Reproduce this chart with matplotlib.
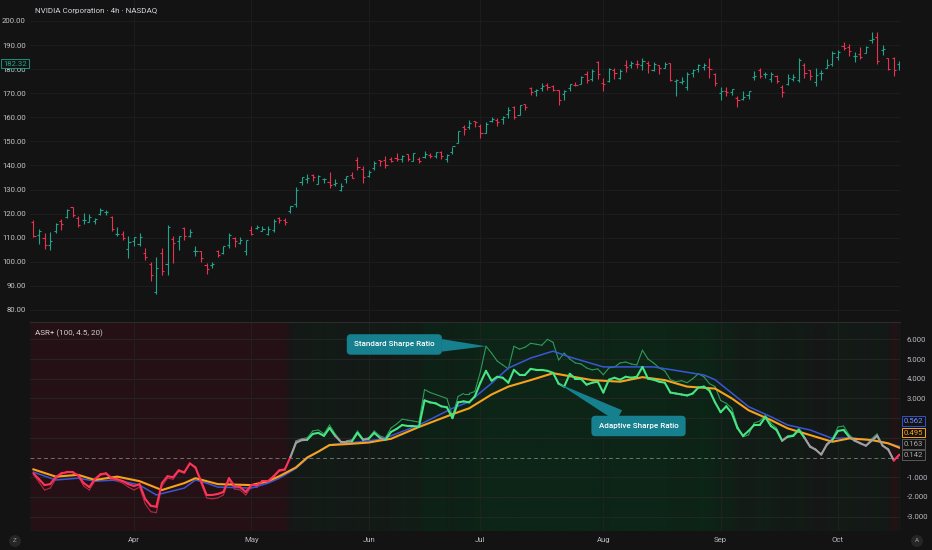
import numpy as np
import matplotlib
matplotlib.use("Agg")
import matplotlib.pyplot as plt
from matplotlib.collections import LineCollection
import matplotlib.transforms as mtransforms

plt.rcParams['font.family'] = ['Roboto', 'DejaVu Sans']

title = 'NVIDIA Corporation · 4h · NASDAQ'
indicator_name = 'ASR+ (100, 4.5, 20)'

# bar index of the first session of each month (Mar 6 .. Oct 16, one bar per session)
month_names = ['Apr', 'May', 'Jun', 'Jul', 'Aug', 'Sep', 'Oct']
month_start = [18, 39, 60, 80, 102, 123, 144]

price_ticks = [80, 90, 100, 110, 120, 130, 140, 150, 160, 170, 180, 190, 200]
osc_ticks = [6, 5, 4, 3, -1, -2, -3]

opens = [
    116.5, 111.3, 109.9, 106.9, 112.7, 117.0, 118.6, 122.7, 118.0, 117.3, 116.6, 116.8, 119.9, 120.6, 118.7, 111.4, 111.5, 105.1,
    108.5, 107.3, 103.5, 98.9, 87.5, 103.8, 98.9, 109.4, 108.5, 114.1, 110.9, 104.5, 104.5, 98.8, 98.8, 104.5, 103.5, 106.8, 109.7, 107.7, 104.5,
    113.1, 114.2, 112.9, 111.5, 113.1, 118.2, 117.4, 121.0, 124.0, 133.2, 134.3, 136.2, 132.4, 134.3, 133.1, 132.2, 130.0, 134.2, 136.0, 142.3, 138.7,
    135.5, 138.8, 142.2, 142.2, 142.5, 143.2, 142.7, 144.6, 141.9, 142.5, 143.4, 144.5, 144.0, 145.5, 142.5, 145.6, 149.3, 155.9, 156.0, 158.4,
    156.3, 153.6, 158.4, 158.8, 159.2, 161.2, 164.3, 161.0, 165.4, 172.0, 171.1, 172.0, 173.6, 172.8, 171.3, 169.5, 172.2, 173.6, 174.0, 177.9, 176.0, 182.9,
    174.1, 175.2, 179.6, 176.3, 181.6, 181.6, 182.2, 181.9, 182.7, 179.8, 181.9, 180.6, 182.4, 175.0, 174.8, 172.6, 178.4, 180.0, 181.0, 180.8, 178.1,
    170.0, 171.1, 170.6, 168.0, 167.6, 169.1, 176.6, 179.7, 177.8, 175.7, 177.0, 172.6, 173.9, 175.8, 175.3, 181.9, 179.8, 174.5, 178.2, 180.4, 182.1,
    185.2, 189.6, 189.2, 185.5, 186.2, 186.6, 192.2, 193.5, 187.9, 184.8, 184.8, 182.2,
]
highs = [
    117.5, 113.5, 111.9, 112.2, 116.0, 117.8, 122.0, 122.9, 119.0, 120.4, 120.0, 118.0, 122.2, 121.3, 118.8, 114.4, 112.9, 110.9,
    110.2, 111.9, 105.6, 100.1, 101.8, 105.9, 115.1, 110.9, 110.9, 114.3, 113.6, 106.6, 104.5, 99.4, 99.8, 104.8, 106.5, 111.9, 110.4, 110.2, 108.9,
    114.9, 115.4, 114.7, 114.7, 117.7, 118.7, 118.2, 123.0, 131.2, 135.4, 136.3, 136.4, 135.9, 134.6, 137.4, 134.3, 132.7, 135.7, 137.2, 143.5, 139.6,
    138.1, 142.0, 142.4, 144.0, 143.3, 145.0, 144.3, 144.9, 145.2, 143.6, 146.2, 145.2, 145.6, 146.2, 144.8, 147.8, 154.5, 156.7, 158.7, 158.6,
    157.2, 157.9, 160.0, 159.6, 160.5, 164.4, 164.5, 165.0, 165.5, 172.4, 171.8, 174.2, 174.3, 173.4, 171.4, 171.3, 173.8, 174.7, 177.0, 179.4, 179.9, 183.3,
    176.5, 180.3, 180.3, 179.9, 183.9, 183.3, 183.8, 184.5, 183.3, 183.0, 181.9, 182.9, 182.5, 175.9, 176.9, 178.6, 180.0, 182.0, 182.4, 184.5, 178.2,
    172.4, 172.4, 171.9, 169.0, 170.9, 170.9, 179.3, 180.3, 178.6, 178.9, 177.5, 173.2, 178.1, 178.1, 184.6, 182.4, 179.8, 180.3, 179.8, 184.0, 187.4,
    188.1, 191.1, 190.4, 187.2, 189.1, 189.6, 195.3, 195.6, 190.1, 184.8, 184.9, 183.3,
]
lows = [
    110.2, 107.5, 105.5, 104.8, 112.0, 113.0, 118.0, 118.6, 114.5, 115.7, 116.5, 115.5, 119.3, 119.3, 112.7, 110.7, 109.1, 101.6,
    106.5, 106.4, 100.8, 92.1, 86.6, 94.5, 94.3, 99.5, 105.0, 109.1, 110.3, 102.5, 100.1, 95.0, 97.3, 102.0, 103.1, 105.7, 106.0, 107.4, 102.8,
    111.3, 113.4, 112.7, 111.3, 112.3, 115.9, 115.2, 120.3, 122.8, 131.7, 132.7, 133.4, 132.4, 132.5, 130.6, 131.6, 129.2, 132.5, 134.8, 137.9, 132.9,
    135.4, 137.9, 139.6, 138.8, 141.5, 141.9, 141.5, 141.9, 141.8, 140.9, 143.2, 143.1, 143.1, 142.6, 141.6, 144.8, 149.3, 152.6, 155.1, 156.1,
    151.5, 153.6, 157.9, 156.3, 157.2, 159.8, 159.2, 160.8, 163.0, 169.2, 168.9, 170.9, 171.3, 171.0, 165.1, 167.0, 170.9, 172.9, 173.8, 174.3, 174.9, 175.9,
    170.9, 174.5, 175.9, 175.8, 178.8, 180.4, 180.3, 179.5, 178.5, 179.4, 178.0, 180.6, 175.0, 168.8, 173.8, 171.2, 176.6, 178.8, 179.5, 176.4, 173.1,
    167.2, 169.0, 169.4, 164.1, 167.3, 167.5, 175.5, 176.2, 176.5, 174.5, 174.4, 168.4, 173.5, 175.2, 174.5, 176.2, 175.4, 173.1, 175.4, 180.3, 181.5,
    183.9, 188.1, 185.4, 182.9, 184.0, 186.5, 191.0, 182.1, 185.9, 179.7, 177.3, 179.8,
]
closes = [
    110.6, 112.7, 107.0, 108.8, 115.7, 115.6, 121.7, 119.5, 115.4, 117.5, 118.5, 117.7, 121.4, 120.7, 113.8, 111.4, 109.7, 108.4,
    110.2, 110.4, 101.8, 94.3, 97.6, 96.3, 114.3, 107.6, 110.9, 110.7, 112.2, 104.5, 101.5, 96.9, 98.9, 102.7, 106.4, 111.0, 108.7, 109.0, 108.9,
    111.6, 114.5, 113.8, 113.5, 117.1, 117.4, 116.7, 123.0, 129.9, 135.3, 134.8, 135.4, 135.6, 134.4, 131.8, 132.8, 131.3, 135.5, 134.8, 139.2, 135.1,
    137.4, 141.2, 141.9, 140.0, 141.7, 142.6, 144.0, 142.8, 145.0, 142.0, 144.7, 144.1, 145.5, 143.9, 144.2, 147.9, 154.3, 155.0, 157.8, 158.0,
    153.3, 157.3, 159.3, 158.2, 160.0, 162.9, 160.0, 164.9, 164.1, 170.7, 171.4, 173.0, 172.4, 171.4, 167.0, 170.8, 173.7, 173.5, 176.8, 175.5, 179.3, 177.9,
    173.7, 180.0, 178.3, 179.4, 180.8, 182.7, 182.1, 183.2, 181.6, 182.0, 180.5, 182.0, 175.6, 175.4, 175.0, 178.0, 179.8, 181.8, 181.6, 180.2, 174.2,
    170.8, 170.6, 171.7, 167.0, 168.3, 170.8, 177.3, 177.2, 177.8, 177.8, 174.9, 170.3, 176.2, 176.7, 183.6, 178.4, 177.0, 177.7, 178.2, 181.9, 186.6,
    187.2, 188.9, 187.6, 185.5, 185.0, 189.1, 192.6, 183.2, 188.3, 180.0, 179.8, 182.32,
]

# adaptive sharpe ratio (thick line) and standard sharpe ratio (thin line)
adaptive = [
    -0.8, -1.1, -1.4, -1.35, -1.0, -0.8, -0.75, -0.75, -0.9, -1.3,
    -1.5, -1.1, -0.85, -0.8, -1.05, -1.1, -1.2, -1.35, -1.45, -1.35,
    -2.1, -2.45, -2.5, -1.3, -0.95, -1.0, -0.65, -0.75, -0.3, -0.5,
    -1.2, -1.9, -1.9, -1.85, -1.75, -1.05, -1.45, -1.5, -1.75, -1.4,
    -1.4, -1.2, -1.2, -0.95, -0.65, -0.6, 0.02, 0.75, 0.88, 0.9,
    1.2, 1.25, 1.1, 1.5, 1.1, 0.8, 0.8, 0.82, 1.25, 0.9,
    0.95, 1.25, 1.0, 0.9, 1.3, 1.45, 1.65, 1.6, 1.6, 1.55,
    2.9, 2.8, 2.75, 2.6, 2.55, 2.0, 2.8, 2.85, 2.8, 3.1,
    3.8, 4.4, 3.9, 4.1, 4.05, 3.8, 4.45, 4.2, 4.2, 4.5,
    4.45, 4.45, 4.4, 4.3, 3.75, 3.6, 4.25, 4.0, 4.0, 3.7,
    3.8, 3.85, 3.3, 3.95, 4.05, 3.95, 4.1, 4.05, 4.1, 4.6,
    4.0, 3.95, 3.85, 3.8, 3.3, 3.25, 3.2, 3.15, 3.25, 3.55,
    3.6, 3.4, 2.8, 2.3, 2.6, 2.25, 1.5, 1.1, 1.35, 1.65,
    1.65, 2.05, 1.6, 1.4, 0.85, 1.05, 1.1, 1.4, 1.0, 0.55,
    0.4, 0.15, 0.65, 0.9, 1.35, 1.4, 1.05, 0.85, 0.72, 0.6,
    0.85, 1.1, 0.6, 0.4, -0.15, 0.142,
]
standard = [
    -0.87, -1.25, -1.65, -1.55, -1.1, -0.85, -0.7, -0.75, -0.95, -1.45,
    -1.65, -1.2, -0.9, -0.85, -1.15, -1.2, -1.3, -1.5, -1.65, -1.5,
    -2.35, -2.75, -2.8, -1.45, -1.05, -1.1, -0.7, -0.8, -0.3, -0.55,
    -1.3, -2.05, -2.1, -2.05, -1.9, -1.15, -1.6, -1.65, -1.9, -1.5,
    -1.5, -1.3, -1.25, -1.0, -0.7, -0.65, 0.05, 0.85, 0.95, 1.0,
    1.35, 1.4, 1.2, 1.65, 1.2, 0.85, 0.85, 0.9, 1.35, 0.95,
    1.0, 1.35, 1.1, 1.0, 1.5, 1.7, 1.95, 1.9, 1.85, 1.8,
    3.45, 3.3, 3.2, 3.1, 3.0, 2.1, 3.1, 3.25, 3.25, 3.35,
    4.35, 5.65, 5.3, 4.9, 4.7, 4.5, 5.65, 5.5, 5.6, 5.8,
    5.75, 5.7, 6.0, 5.85, 4.95, 5.3, 5.0, 4.8, 4.75, 4.55,
    4.45, 4.5, 4.2, 4.55, 4.6, 4.8, 4.85, 4.75, 4.7, 5.45,
    5.0, 4.8, 4.55, 4.4, 3.95, 3.85, 3.9, 3.8, 4.0, 4.25,
    4.1, 3.75, 3.6, 2.9, 2.75, 2.5, 1.6, 1.05, 1.15, 1.75,
    1.85, 2.15, 1.75, 1.5, 0.9, 1.1, 1.15, 1.5, 1.05, 0.6,
    0.42, 0.15, 0.7, 0.95, 1.55, 1.6, 1.15, 0.9, 0.75, 0.6,
    0.95, 1.2, 0.6, 0.45, -0.15, 0.163,
]

# smoothed lines, read at the bars where they bend
blue_idx = [0, 4, 8, 11, 15, 19, 22, 27, 29, 31, 33, 39, 42, 44, 47, 49, 51, 53, 56, 60,
            62, 64, 69, 75, 78, 82, 85, 89, 93, 96, 102, 111, 115, 120, 122, 125, 128, 132, 135, 139,
            143, 146, 150, 153, 155]
blue_vals = [-0.74, -1.14, -1.05, -1.2, -1.14, -1.4, -1.9, -1.55, -1.14, -1.3, -1.5, -1.55, -1.3, -1.05, -0.55, -0.05, 0.3, 0.65, 0.72, 0.85,
             0.92, 1.1, 1.65, 2.5, 2.83, 3.77, 4.54, 5.05, 5.4, 5.1, 4.6, 4.6, 4.42, 4.19, 3.95, 3.27, 2.58, 2.07, 1.65, 1.4,
             0.97, 1.0, 0.89, 0.72, 0.562]
orange_idx = [0, 4, 8, 11, 15, 19, 23, 27, 29, 33, 39, 42, 44, 47, 49, 51, 53, 56, 60, 62,
              64, 69, 75, 78, 82, 85, 89, 93, 100, 105, 109, 113, 117, 122, 125, 128, 132, 135, 139, 143,
              146, 150, 153, 155]
orange_vals = [-0.6, -0.97, -0.88, -1.14, -0.97, -1.2, -1.65, -1.3, -1.05, -1.35, -1.4, -1.2, -0.95, -0.5, 0.0, 0.3, 0.63, 0.68, 0.76, 0.86,
               0.95, 1.55, 2.2, 2.5, 3.2, 3.6, 3.93, 4.28, 3.93, 3.85, 4.08, 3.93, 3.6, 3.5, 3.0, 2.4, 1.9, 1.48, 1.14, 0.8,
               0.97, 0.89, 0.72, 0.495]

# ---------------- style ----------------
BG = '#131313'
TXT = '#b7b9c0'
bull = '#1fa58f'
bear = '#e8324f'
teal = '#17808e'

opens = np.array(opens); highs = np.array(highs); lows = np.array(lows); closes = np.array(closes)
adaptive = np.array(adaptive); standard = np.array(standard)
n = len(closes)
x = np.arange(n)
xlim = (-0.61, 155.1)

fig = plt.figure(figsize=(9.32, 5.5), dpi=100, facecolor=BG)
ax_p = fig.add_axes([30 / 932, 229 / 550, 870 / 932, 321 / 550], facecolor=BG)
ax_o = fig.add_axes([30 / 932, 19 / 550, 870 / 932, 209 / 550], facecolor='#161616')

# ---- price pane ----
cols = np.where(closes >= opens, bull, bear)
ax_p.vlines(x, lows, highs, colors=cols, lw=0.8, zorder=3)
ax_p.hlines(opens, x - 0.38, x, colors=cols, lw=0.8, zorder=3)
ax_p.hlines(closes, x, x + 0.38, colors=cols, lw=0.8, zorder=3)

ax_p.set_xlim(*xlim)
ax_p.set_ylim(75.4, 208.7)
ax_p.set_yticks(price_ticks)
ax_p.set_yticklabels([f'{t:.2f}' for t in price_ticks])
ax_p.set_xticks(month_start)
ax_p.tick_params(axis='y', length=0, pad=3, labelsize=5.6, labelcolor='#c4c4c4')
ax_p.tick_params(axis='x', length=0, labelbottom=False)
ax_p.grid(True, color='#1e1e1e', lw=0.6, zorder=0)
for s in ax_p.spines.values():
    s.set_visible(False)

ax_p.text(-0.031, closes[-1], f'{closes[-1]:.2f}', transform=mtransforms.blended_transform_factory(ax_p.transAxes, ax_p.transData),
          ha='left', va='center', fontsize=5.6, color=bull,
          bbox=dict(boxstyle='square,pad=0.25', fc=BG, ec=bull, lw=0.6), zorder=6)

fig.text(35 / 932, 1 - 11 / 550, title, fontsize=5.8, color='#d1d4dc', ha='left', va='center')

# ---- oscillator pane ----
ylo, yhi = -3.73, 6.88


def bg_color(v):
    neutral = np.array([22, 22, 22]) / 255
    if v < 0:
        return np.array([37, 17, 21]) / 255
    green = np.array([12, 37, 23]) / 255
    t = min(v / 3.5, 1.0)
    return neutral + (green - neutral) * t


bg = np.array([bg_color(v) for v in adaptive])[None, :, :]
ax_o.imshow(bg, extent=(-0.5, n - 0.5, ylo, yhi), aspect='auto', interpolation='bilinear', zorder=0)

for v in range(-3, 7):
    if v == 0:
        ax_o.axhline(0, color='#707070', lw=0.7, ls=(0, (4, 3)), zorder=1)
    else:
        ax_o.axhline(v, color='#272727', lw=0.6, zorder=1)
for m in month_start:
    ax_o.axvline(m, color='#222222', lw=0.6, zorder=1)


def colored_segments(vals, red, gray, green):
    pts = np.column_stack([x, vals])
    segs = np.stack([pts[:-1], pts[1:]], axis=1)
    mids = (vals[:-1] + vals[1:]) / 2
    c = [red if m < 0 else (gray if m < 1.0 else green) for m in mids]
    return segs, c


segs, c = colored_segments(standard, '#b32a45', '#7c7c7c', '#2f9a5a')
ax_o.add_collection(LineCollection(segs, colors=c, linewidths=0.8, zorder=3, capstyle='round'))

ax_o.plot(blue_idx, blue_vals, color='#3a57d6', lw=1.1, zorder=4, solid_joinstyle='round')
ax_o.plot(orange_idx, orange_vals, color='#f7a21b', lw=1.5, zorder=5, solid_joinstyle='round')

segs, c = colored_segments(adaptive, '#ff3358', '#a0a0a0', '#45e683')
ax_o.add_collection(LineCollection(segs, colors=c, linewidths=1.5, zorder=6, capstyle='round'))

ax_o.set_xlim(*xlim)
ax_o.set_ylim(ylo, yhi)
ax_o.yaxis.tick_right()
ax_o.set_yticks(osc_ticks)
ax_o.set_yticklabels([f'{t:.3f}' for t in osc_ticks])
ax_o.tick_params(axis='y', length=0, pad=5, labelsize=5.6, labelcolor=TXT)
ax_o.set_xticks(month_start)
ax_o.set_xticklabels(month_names)
ax_o.tick_params(axis='x', length=0, pad=4, labelsize=5.6, labelcolor=TXT)
for k, s in ax_o.spines.items():
    s.set_visible(k == 'top')
ax_o.spines['top'].set_color('#2c2c2c')
ax_o.spines['top'].set_linewidth(0.8)

ax_o.text(0.006, 0.947, indicator_name, transform=ax_o.transAxes, fontsize=5.8, color='#cfcfcf',
          ha='left', va='center', zorder=8)

# callouts
ax_o.annotate('Standard Sharpe Ratio', xy=(81, standard[81]), xytext=(64.6, 5.74), textcoords='data',
              ha='center', va='center', fontsize=5.8, color='white', fontweight='medium', zorder=9,
              bbox=dict(boxstyle='round,pad=0.9,rounding_size=0.5', fc=teal, ec='none'),
              arrowprops=dict(arrowstyle='wedge,tail_width=1.0,shrink_factor=0.5', fc=teal, ec='none',
                              mutation_scale=9, shrinkA=0, shrinkB=0))
ax_o.annotate('Adaptive Sharpe Ratio', xy=(94, adaptive[94]), xytext=(108.3, 1.6), textcoords='data',
              ha='center', va='center', fontsize=5.8, color='white', fontweight='medium', zorder=9,
              bbox=dict(boxstyle='round,pad=0.9,rounding_size=0.5', fc=teal, ec='none'),
              arrowprops=dict(arrowstyle='wedge,tail_width=1.0,shrink_factor=0.5', fc=teal, ec='none',
                              mutation_scale=9, shrinkA=0, shrinkB=0))

# last-value labels on the right scale (stacked so they do not overlap)
tr = mtransforms.blended_transform_factory(ax_o.transAxes, ax_o.transData)
last_labels = [
    (f'{blue_vals[-1]:.3f}', '#7390ff', '#3451d1', 1.85),
    (f'{orange_vals[-1]:.3f}', '#f7a21b', '#f7a21b', 1.27),
    (f'{standard[-1]:.3f}', '#a8a8a8', '#5a5a5a', 0.69),
    (f'{adaptive[-1]:.3f}', '#a8a8a8', '#5a5a5a', 0.14),
]
for txt, tc, ec, yv in last_labels:
    ax_o.text(1.0046, yv, txt, transform=tr, ha='left', va='center', fontsize=5.6, color=tc,
              bbox=dict(boxstyle='square,pad=0.25', fc=BG, ec=ec, lw=0.7), zorder=10, clip_on=False)

# corner buttons of the time scale
for xp, lab in [(15, 'Z'), (917, 'A')]:
    fig.text(xp / 932, 1 - 541 / 550, lab, fontsize=4.5, color='#9598a1', ha='center', va='center',
             bbox=dict(boxstyle='circle,pad=0.55', fc='#262626', ec='none'))

fig.savefig('out.png', dpi=100, facecolor=BG)
